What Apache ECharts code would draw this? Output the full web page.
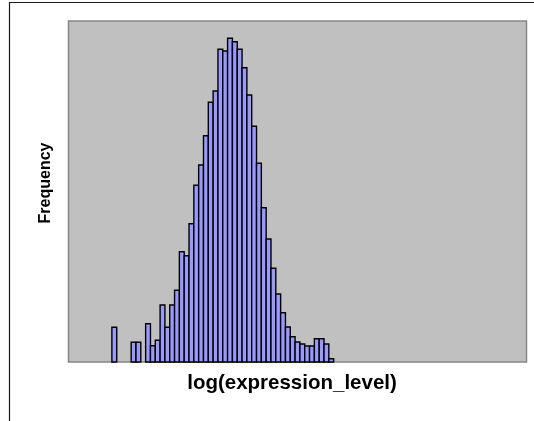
<!DOCTYPE html>
<html>
<head>
<meta charset="utf-8">
<script src="https://cdn.jsdelivr.net/npm/echarts@6/dist/echarts.min.js"></script>
<style>html,body{margin:0;padding:0;background:#fff;}#c{width:534px;height:421px;}</style>
</head>
<body>
<div id="c"></div>
<script>
// Histogram bins (index of bin on the hidden log(expression_level) axis)
const bins = [0,1,2,3,4,5,6,7,8,9,10,11,12,13,14,15,16,17,18,19,20,21,22,23,24,25,26,27,28,29,30,31,32,33,34,35,36,37,38,39,40,41,42,43,44,45];
// Frequency of each bin (relative units, axis unlabelled)
const counts = [34.7,0,0,0,19.7,19.7,0,38.3,16.3,21.7,57,34.7,57,71.7,110.3,106.3,138.3,176.7,197,226.3,259.7,271,312.7,311,323.7,320.3,312.7,294.3,267,235.7,198.7,154.3,123,93.7,68,49.3,35,25.3,20,18,16,16,23.3,23.3,18,3.3];
// Axis ranges
const xRange = [-9, 86];
const yRange = [0, 341];
const xTitle = 'log(expression_level)';
const yTitle = 'Frequency';

const data = bins.map((b, i) => [b, counts[i]]);

const chart = echarts.init(document.getElementById('c'), null, {renderer: 'canvas'});
chart.setOption({
  animation: false,
  backgroundColor: '#ffffff',
  grid: {
    left: 68.5, top: 21, width: 458, height: 341,
    show: true, backgroundColor: '#c0c0c0', borderColor: '#868686', borderWidth: 1.5
  },
  xAxis: {
    type: 'value', min: xRange[0], max: xRange[1],
    axisLine: {show: false}, axisTick: {show: false}, axisLabel: {show: false}, splitLine: {show: false}
  },
  yAxis: {
    type: 'value', min: yRange[0], max: yRange[1],
    axisLine: {show: false}, axisTick: {show: false}, axisLabel: {show: false}, splitLine: {show: false}
  },
  series: [{
    type: 'custom',
    data: data,
    renderItem: function (params, api) {
      const x = api.value(0), y = api.value(1);
      if (!y) return null;
      const p0 = api.coord([x, 0]);
      const p1 = api.coord([x + 1, y]);
      return {
        type: 'rect',
        shape: {x: p0[0], y: p1[1], width: p1[0] - p0[0], height: p0[1] - p1[1]},
        style: {fill: '#9999ff', stroke: '#000000', lineWidth: 1.4}
      };
    }
  }],
  graphic: [
    {type: 'rect', x: 0, y: 0, shape: {x: 9.5, y: 2.5, width: 700, height: 700},
     style: {fill: 'none', stroke: '#1a1a1a', lineWidth: 1.2}, silent: true},
    {type: 'text', x: 292, y: 383,
     style: {text: xTitle, font: 'bold 20.5px "Liberation Sans", Arial, sans-serif', fill: '#000',
             textAlign: 'center', textVerticalAlign: 'middle'}},
    {type: 'text', x: 46, y: 183, rotation: Math.PI / 2,
     style: {text: yTitle, font: 'bold 16px "Liberation Sans", Arial, sans-serif', fill: '#000',
             textAlign: 'center', textVerticalAlign: 'middle'}}
  ]
});
</script>
</body>
</html>
